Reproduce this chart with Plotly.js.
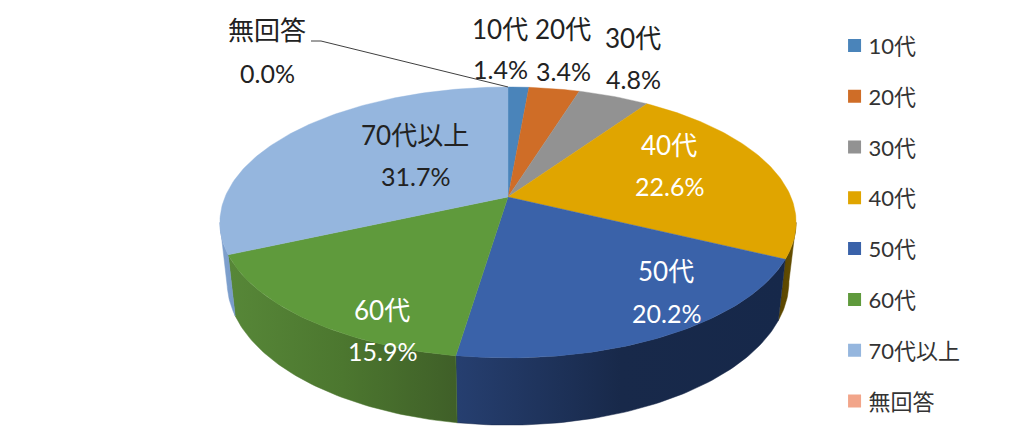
<!DOCTYPE html>
<html>
<head>
<meta charset="utf-8">
<script src="https://cdn.plot.ly/plotly-3.0.1.min.js"></script>
<style>html,body{margin:0;padding:0;background:#fff}#chart{width:1024px;height:447px}</style>
</head>
<body>
<div id="chart"></div>
<script>
// ---- data ----
var categories = ['10代','20代','30代','40代','50代','60代','70代以上','無回答'];
var shares = [1.4,3.4,4.8,22.6,20.2,15.9,31.7,0.0];
var topColors = ['#4a84ba','#cf6d27','#929292','#e0a500','#3a62a9','#5f9a3c','#95b6de','#f2a58a'];
var wallFrom = ['#3a6a96','#a4561e','#747474','#5a4500','#263f70','#578738','#7d9fcc','#c08a72'];
var wallMid  = ['#3a6a96','#a4561e','#747474','#5f4a00','#18294a','#4c772f','#7d9fcc','#c08a72'];
var wallTo   = ['#3a6a96','#a4561e','#747474','#6a5200','#16284a','#3f5f28','#7499c8','#c08a72'];
var labelColors = ['#222','#222','#222','#fff','#fff','#fff','#222','#222'];
var labelAnchors = [[500,29,69],[563,29,71],[633,38,79],[669,145,186],[666,271,313],[382,310,351],[415,135,176],[267,30,73]];

// ---- pie geometry (perspective projection of a disc) ----
var CX=508, CY=197, A=283, B=130.7, K=0.188;
var FONT="Lato, 'Noto Sans CJK JP', sans-serif";
function topRim(deg){
  var r=deg*Math.PI/180, X=Math.sin(r), Y=-Math.cos(r), d=1-K*Y;
  return [CX+A*X/d, CY+B*Y/d];
}
function lowRim(deg){
  var p=topRim(deg);
  return [CX+(p[0]-CX)*0.975, p[1]+57.6+0.0594*(p[1]-CY)];
}
var FRONT0=100.8, FRONT1=259.2;
function arc(fn,a,b){
  var pts=[], n=Math.max(1,Math.ceil(Math.abs(b-a)));
  for(var i=0;i<=n;i++) pts.push(fn(a+(b-a)*i/n));
  return pts;
}
var walls=[], faces=[], legendItems=[];
var cum=0;
shares.forEach(function(v,i){
  var a=cum/100*360, b=(cum+v)/100*360; cum+=v;
  if(v>0){
    var a2=Math.max(a,FRONT0), b2=Math.min(b,FRONT1);
    if(b2>a2){
      var pts=arc(topRim,a2,b2).concat(arc(lowRim,b2,a2));
      pts.push(pts[0]);
      walls.push({type:'scatter',mode:'lines',x:pts.map(function(p){return p[0]}),y:pts.map(function(p){return p[1]}),
        fill:'toself',line:{width:0.5,color:wallMid[i]},
        fillgradient:{type:'horizontal',colorscale:[[0,wallFrom[i]],[0.5,wallMid[i]],[1,wallTo[i]]]},
        showlegend:false,hoverinfo:'skip'});
    }
    var f=[[CX,CY]].concat(arc(topRim,a,b)); f.push([CX,CY]);
    faces.push({type:'scatter',mode:'lines',x:f.map(function(p){return p[0]}),y:f.map(function(p){return p[1]}),
      fill:'toself',fillcolor:topColors[i],line:{width:0.4,color:topColors[i]},
      name:categories[i],showlegend:false,hoverinfo:'name'});
  }
  legendItems.push({type:'scatter',mode:'markers',x:[null],y:[null],name:categories[i],legendgroup:'g'+i,
    marker:{symbol:'square',size:13,color:topColors[i]},hoverinfo:'skip'});
});
// leader line of the zero slice
var rimEnd=topRim(360);
var leader={type:'scatter',mode:'lines',x:[311,321,rimEnd[0]],y:[41,41,rimEnd[1]],line:{color:'#404040',width:1},showlegend:false,hoverinfo:'skip'};

var annotations=[];
categories.forEach(function(c,i){
  var a=labelAnchors[i];
  var base={xref:'x',yref:'y',showarrow:false,xanchor:'center',yanchor:'middle'};
  annotations.push(Object.assign({},base,{x:a[0],y:a[1],text:c,font:{family:FONT,size:26,color:labelColors[i]}}));
  annotations.push(Object.assign({},base,{x:a[0],y:a[2],text:shares[i].toFixed(1)+'%',font:{family:FONT,size:25,color:labelColors[i]}}));
});

Plotly.newPlot('chart',walls.concat(faces,[leader],legendItems),{
  width:1024,height:447,margin:{l:0,r:0,t:0,b:0},
  paper_bgcolor:'#fff',plot_bgcolor:'#fff',
  xaxis:{range:[0,1024],visible:false,fixedrange:true},
  yaxis:{range:[447,0],visible:false,fixedrange:true},
  legend:{x:0.815,y:0.945,xanchor:'left',yanchor:'top',tracegroupgap:19.2,itemwidth:30,
    font:{family:FONT,size:22,color:'#333'},bgcolor:'rgba(0,0,0,0)'},
  annotations:annotations,
  showlegend:true,
  font:{family:FONT}
},{displayModeBar:false,staticPlot:true}).then(function(){
  document.querySelectorAll('.legendtext').forEach(function(t){
    t.setAttribute('x',parseFloat(t.getAttribute('x'))-6);
  });
});
</script>
</body>
</html>
